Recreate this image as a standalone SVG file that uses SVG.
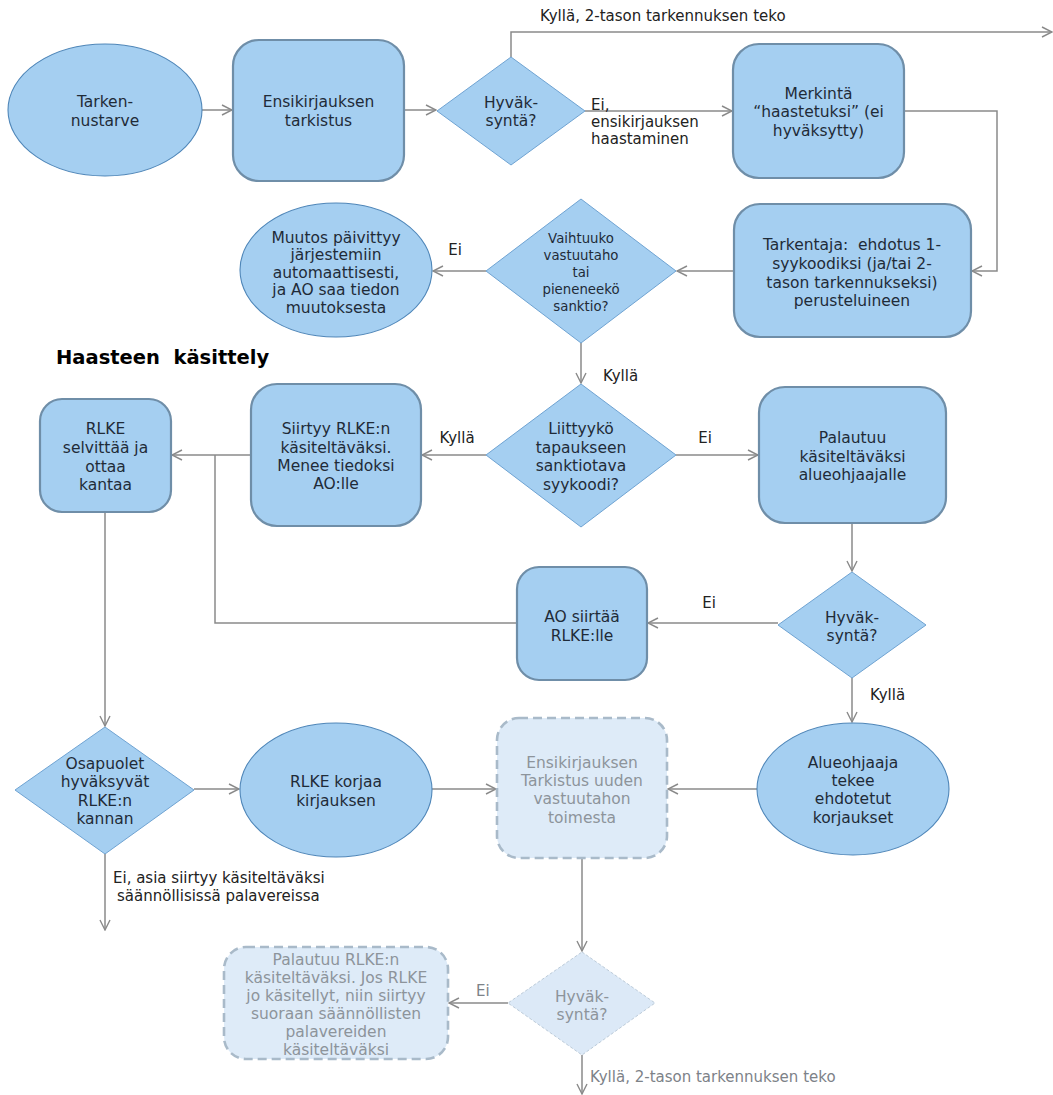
<svg xmlns="http://www.w3.org/2000/svg" width="1053" height="1095" viewBox="0 0 1053 1095">
  <defs>
    <marker id="arrow" viewBox="0 0 12 12" refX="11" refY="6" markerWidth="12" markerHeight="12" markerUnits="userSpaceOnUse" orient="auto">
      <path d="M1,1 L11,6 L1,11" fill="none" stroke="#8a8a8a" stroke-width="1.4"/>
    </marker>
    <style>
      text { font-family: "DejaVu Sans", "Liberation Sans", sans-serif; font-size: 15.5px; fill: #1f2b38; text-anchor: middle; white-space: pre; }
      .lbl { font-size: 15px; fill: #222; text-anchor: start; }
      .lblc { font-size: 15px; fill: #222; }
      .dim { fill: #8d949b; }
      .dimlbl { font-size: 15px; fill: #7d8288; text-anchor: start; }
      .small { font-size: 13.3px; }
      .head { font-size: 19.5px; font-weight: bold; fill: #000; text-anchor: start; }
      .box { fill: #a5cff1; stroke: #6f8ea8; stroke-width: 2.2; }
      .oval { fill: #a5cff1; stroke: #4f86b8; stroke-width: 1.1; }
      .dia { fill: #a5cff1; stroke: #6fa3d2; stroke-width: 1; }
      .fbox { fill: #deebf8; stroke: #a9bac9; stroke-width: 2.6; stroke-dasharray: 9 5; }
      .fdia { fill: #dce9f7; stroke: #bccbd9; stroke-width: 1; stroke-dasharray: 3 2; }
      .conn { fill: none; stroke: #8a8a8a; stroke-width: 1.5; }
    </style>
  </defs>

  <!-- connectors -->
  <g id="connectors">
    <path class="conn" d="M202,110 H232" marker-end="url(#arrow)"/>
    <path class="conn" d="M404,110 H436" marker-end="url(#arrow)"/>
    <path class="conn" d="M511,57 V32 H1052" marker-end="url(#arrow)"/>
    <path class="conn" d="M585,111 H732" marker-end="url(#arrow)"/>
    <path class="conn" d="M904,111 H997 V271 H972" marker-end="url(#arrow)"/>
    <path class="conn" d="M734,271 H677" marker-end="url(#arrow)"/>
    <path class="conn" d="M486,271 H433" marker-end="url(#arrow)"/>
    <path class="conn" d="M581,343 V383" marker-end="url(#arrow)"/>
    <path class="conn" d="M676,455 H758" marker-end="url(#arrow)"/>
    <path class="conn" d="M486,455 H422" marker-end="url(#arrow)"/>
    <path class="conn" d="M251,455 H172" marker-end="url(#arrow)"/>
    <path class="conn" d="M852,523 V571" marker-end="url(#arrow)"/>
    <path class="conn" d="M778,623 H648" marker-end="url(#arrow)"/>
    <path class="conn" d="M517,623 H215 V455"/>
    <path class="conn" d="M105,512 V726" marker-end="url(#arrow)"/>
    <path class="conn" d="M852,678 V722" marker-end="url(#arrow)"/>
    <path class="conn" d="M194,789 H239" marker-end="url(#arrow)"/>
    <path class="conn" d="M432,789 H496" marker-end="url(#arrow)"/>
    <path class="conn" d="M757,789 H668" marker-end="url(#arrow)"/>
    <path class="conn" d="M105,854 V930" marker-end="url(#arrow)"/>
    <path class="conn" d="M582,858 V951" marker-end="url(#arrow)"/>
    <path class="conn" d="M508,1003 H449" marker-end="url(#arrow)"/>
    <path class="conn" d="M582,1055 V1094" marker-end="url(#arrow)"/>

    <text class="lbl" x="540" y="21">Kyllä, 2-tason tarkennuksen teko</text>
    <text class="lbl" x="591" y="110">Ei,</text>
    <text class="lbl" x="591" y="127">ensikirjauksen</text>
    <text class="lbl" x="591" y="144">haastaminen</text>
    <text class="lblc" x="455" y="255">Ei</text>
    <text class="lbl" x="603" y="381">Kyllä</text>
    <text class="lblc" x="457" y="443">Kyllä</text>
    <text class="lblc" x="705" y="443">Ei</text>
    <text class="lblc" x="709" y="608">Ei</text>
    <text class="lbl" x="870" y="700">Kyllä</text>
    <text class="lbl" x="113" y="883">Ei, asia siirtyy käsiteltäväksi</text>
    <text class="lbl" x="117" y="901">säännöllisissä palavereissa</text>
    <text class="dimlbl" x="476" y="996">Ei</text>
    <text class="dimlbl" x="590" y="1082">Kyllä, 2-tason tarkennuksen teko</text>
  </g>

  <!-- heading -->
  <text class="head" x="56" y="364">Haasteen  käsittely</text>

  <!-- nodes -->
  <g id="tarkennustarve">
    <ellipse class="oval" cx="105" cy="110" rx="97" ry="66"/>
    <text x="105" y="106.5">Tarken-</text>
    <text x="105" y="125.5">nustarve</text>
  </g>

  <g id="ensikirjauksen-tarkistus">
    <rect class="box" x="233" y="40" width="171" height="141" rx="26"/>
    <text x="318.5" y="106.5">Ensikirjauksen</text>
    <text x="318.5" y="125.5">tarkistus</text>
  </g>

  <g id="hyvaksynta-1">
    <polygon class="dia" points="511,57 585,111 511,165 437,111"/>
    <text x="511" y="107.5">Hyväk-</text>
    <text x="511" y="125.5">syntä?</text>
  </g>

  <g id="merkinta">
    <rect class="box" x="733" y="44" width="171" height="134" rx="26"/>
    <text x="818.5" y="98.5">Merkintä</text>
    <text x="818.5" y="117">“haastetuksi” (ei</text>
    <text x="818.5" y="135.5">hyväksytty)</text>
  </g>

  <g id="tarkentaja">
    <rect class="box" x="734" y="204" width="237" height="133" rx="26"/>
    <text x="852" y="249.5">Tarkentaja:  ehdotus 1-</text>
    <text x="852" y="268.5">syykoodiksi (ja/tai 2-</text>
    <text x="852" y="287.5">tason tarkennukseksi)</text>
    <text x="852" y="305.5">perusteluineen</text>
  </g>

  <g id="vaihtuuko">
    <polygon class="dia" points="581,199 676,271 581,343 486,271"/>
    <text class="small" x="581" y="243">Vaihtuuko</text>
    <text class="small" x="581" y="260">vastuutaho</text>
    <text class="small" x="581" y="277">tai</text>
    <text class="small" x="581" y="294">pieneneekö</text>
    <text class="small" x="581" y="311">sanktio?</text>
  </g>

  <g id="muutos">
    <ellipse class="oval" cx="336" cy="270" rx="96" ry="67"/>
    <text x="336" y="242.5">Muutos päivittyy</text>
    <text x="336" y="260">järjestemiin</text>
    <text x="336" y="277.5">automaattisesti,</text>
    <text x="336" y="295">ja AO saa tiedon</text>
    <text x="336" y="312.5">muutoksesta</text>
  </g>

  <g id="liittyyko">
    <polygon class="dia" points="581,384 676,455 581,527 486,455"/>
    <text x="581" y="433.5">Liittyykö</text>
    <text x="581" y="452.5">tapaukseen</text>
    <text x="581" y="470.5">sanktiotava</text>
    <text x="581" y="489.5">syykoodi?</text>
  </g>

  <g id="siirtyy">
    <rect class="box" x="251" y="384" width="170" height="142" rx="26"/>
    <text x="336" y="433.5">Siirtyy RLKE:n</text>
    <text x="336" y="452.5">käsiteltäväksi.</text>
    <text x="336" y="470.5">Menee tiedoksi</text>
    <text x="336" y="488.5">AO:lle</text>
  </g>

  <g id="rlke-selvittaa">
    <rect class="box" x="40" y="399" width="131" height="113" rx="22"/>
    <text x="105.5" y="433.5">RLKE</text>
    <text x="105.5" y="452.5">selvittää ja</text>
    <text x="105.5" y="471.5">ottaa</text>
    <text x="105.5" y="489.5">kantaa</text>
  </g>

  <g id="palautuu-alueohjaajalle">
    <rect class="box" x="759" y="387" width="187" height="136" rx="26"/>
    <text x="852.5" y="442.5">Palautuu</text>
    <text x="852.5" y="461.5">käsiteltäväksi</text>
    <text x="852.5" y="479.5">alueohjaajalle</text>
  </g>

  <g id="hyvaksynta-2">
    <polygon class="dia" points="852,572 926,625 852,678 778,625"/>
    <text x="852" y="622.5">Hyväk-</text>
    <text x="852" y="640.5">syntä?</text>
  </g>

  <g id="ao-siirtaa">
    <rect class="box" x="517" y="567" width="130" height="113" rx="22"/>
    <text x="582" y="621.5">AO siirtää</text>
    <text x="582" y="640.5">RLKE:lle</text>
  </g>

  <g id="osapuolet">
    <polygon class="dia" points="105,727 194,790 105,854 15,790"/>
    <text x="105" y="768.5">Osapuolet</text>
    <text x="105" y="786.5">hyväksyvät</text>
    <text x="105" y="805.5">RLKE:n</text>
    <text x="105" y="823.5">kannan</text>
  </g>

  <g id="rlke-korjaa">
    <ellipse class="oval" cx="336" cy="790" rx="96" ry="67"/>
    <text x="336" y="786.5">RLKE korjaa</text>
    <text x="336" y="805.5">kirjauksen</text>
  </g>

  <g id="uusi-tarkistus">
    <rect class="fbox" x="497" y="718" width="170" height="140" rx="22"/>
    <text class="dim" x="582" y="767.5">Ensikirjauksen</text>
    <text class="dim" x="582" y="785.5">Tarkistus uuden</text>
    <text class="dim" x="582" y="803.5">vastuutahon</text>
    <text class="dim" x="582" y="822.5">toimesta</text>
  </g>

  <g id="alueohjaaja">
    <ellipse class="oval" cx="853" cy="789" rx="96" ry="66"/>
    <text x="853" y="767.5">Alueohjaaja</text>
    <text x="853" y="785.5">tekee</text>
    <text x="853" y="803.5">ehdotetut</text>
    <text x="853" y="822.5">korjaukset</text>
  </g>

  <g id="hyvaksynta-3">
    <polygon class="fdia" points="582,952 655,1003 582,1055 508,1003"/>
    <text class="dim" x="582" y="1001.5">Hyväk-</text>
    <text class="dim" x="582" y="1019.5">syntä?</text>
  </g>

  <g id="palautuu-rlke">
    <rect class="fbox" x="224" y="947" width="224" height="112" rx="22"/>
    <text class="dim" x="336" y="964.5">Palautuu RLKE:n</text>
    <text class="dim" x="336" y="982.5">käsiteltäväksi. Jos RLKE</text>
    <text class="dim" x="336" y="1000.5">jo käsitellyt, niin siirtyy</text>
    <text class="dim" x="336" y="1018.5">suoraan säännöllisten</text>
    <text class="dim" x="336" y="1037">palavereiden</text>
    <text class="dim" x="336" y="1055">käsiteltäväksi</text>
  </g>
</svg>
